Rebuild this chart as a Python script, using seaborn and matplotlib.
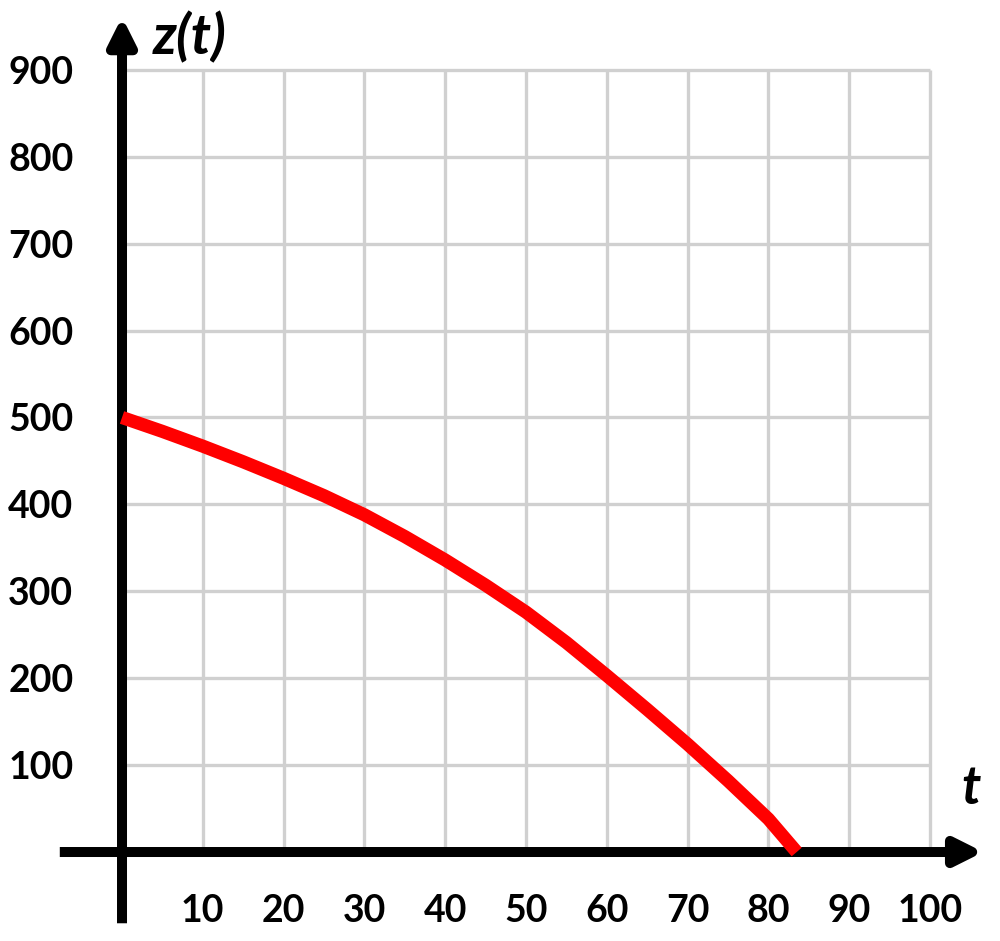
import matplotlib
matplotlib.use("Agg")
import matplotlib.pyplot as plt
import seaborn as sns
import numpy as np
import pandas as pd

# data
t_vals = [0, 5, 10, 15, 20, 25, 30, 35, 40, 45, 50, 55, 60, 65, 70, 75, 80, 83.5]
z_vals = [500, 484, 467, 449, 430, 410, 388, 363, 336, 307, 276, 241, 203, 164, 124, 82, 38, 0]
x_ticks = [10, 20, 30, 40, 50, 60, 70, 80, 90, 100]
x_labels = ["10", "20", "30", "40", "50", "60", "70", "80", "90", "100"]
y_ticks = [100, 200, 300, 400, 500, 600, 700, 800, 900]
y_labels = ["100", "200", "300", "400", "500", "600", "700", "800", "900"]

sns.set_theme(style="white")
plt.rcParams['font.family'] = ['Lato', 'DejaVu Sans']

fig = plt.figure(figsize=(10, 9.41), dpi=100)
ax = fig.add_axes([0, 0, 1, 1])
ax.set_xlim(-15.1, 108.66)
ax.set_ylim(-102.4, 980.4)
ax.set_facecolor("white")

# grid
grid_c = "#d0d0d0"
ax.vlines(x_ticks, 0, 900, colors=grid_c, lw=2.4, zorder=1)
ax.hlines(y_ticks, 0, 100, colors=grid_c, lw=2.4, zorder=1)

# spines hidden but positioned at zero for ticks
for s in ax.spines.values():
    s.set_visible(False)
ax.spines['left'].set_position(('data', 0))
ax.spines['bottom'].set_position(('data', 0))

# axes arrows
ax.annotate("", xy=(0, 961), xytext=(0, -82),
            arrowprops=dict(arrowstyle="-|>,head_length=16,head_width=8",
                            mutation_scale=1, lw=7.2, color="black",
                            shrinkA=0, shrinkB=0, capstyle="butt"),
            zorder=4, annotation_clip=False)
ax.annotate("", xy=(106.6, 0), xytext=(-7.7, 0),
            arrowprops=dict(arrowstyle="-|>,head_length=16,head_width=8",
                            mutation_scale=1, lw=7.2, color="black",
                            shrinkA=0, shrinkB=0, capstyle="butt"),
            zorder=4, annotation_clip=False)

# curve
df = pd.DataFrame({"t": t_vals, "z": z_vals})
sns.lineplot(data=df, x="t", y="z", ax=ax, color="#ff0000", lw=9.5,
             sort=False, estimator=None, zorder=5, solid_capstyle="butt",
             solid_joinstyle="round")

ax.set_xticks(x_ticks)
ax.set_xticklabels(x_labels)
ax.set_yticks(y_ticks)
ax.set_yticklabels(y_labels)
ax.tick_params(axis='both', direction='out', length=10, width=7.5, color='black',
               labelsize=27, labelcolor='black')
ax.tick_params(axis='y', pad=25)
ax.tick_params(axis='x', pad=20)
for lab in ax.get_xticklabels() + ax.get_yticklabels():
    lab.set_fontweight('bold')
ax.set_xlabel("")
ax.set_ylabel("")
ax.grid(False)

ax.text(3.8, 938, "z(t)", fontsize=40, fontweight='bold', fontstyle='italic',
        ha='left', va='center', color='black')
ax.text(105.1, 73, "t", fontsize=38, fontweight='bold', fontstyle='italic',
        ha='center', va='center', color='black')

fig.savefig("out.png", dpi=100, facecolor="white")
